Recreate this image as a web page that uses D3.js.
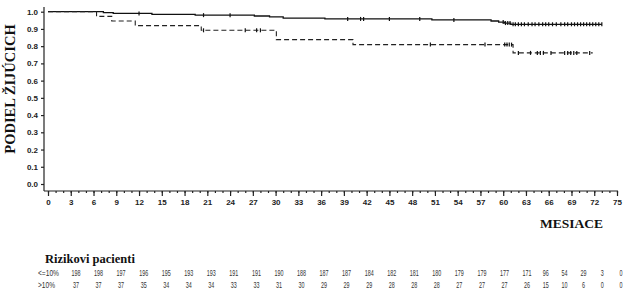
<!DOCTYPE html>
<html>
<head>
<meta charset="utf-8">
<script src="https://cdn.jsdelivr.net/npm/d3@7"></script>
<style>
	body { margin: 0; background: #fff; }
	svg { display: block; }
	.tick text { font-family: "Liberation Sans", Arial, sans-serif; font-weight: bold; font-size: 8px; fill: #222; }
</style>
</head>
<body>
<svg id="chart" width="639" height="302"></svg>
<script>
// survival steps [month, proportion alive]
var lowSteps = [[0, 1.0], [7.3, 0.995], [8.6, 0.99], [13.7, 0.985], [19.4, 0.98], [27.2, 0.975],
	[29.2, 0.97], [31, 0.963], [36.5, 0.958], [50.6, 0.952], [58.4, 0.946], [59.4, 0.94],
	[60.2, 0.934], [61, 0.927], [73, 0.927]];
var highSteps = [[0, 1.0], [6.4, 0.973], [8.4, 0.946], [11.5, 0.919], [20.2, 0.892], [30.1, 0.838],
	[40.2, 0.809], [61.3, 0.761], [71.8, 0.761]];

// censored observations (months)
var lowCensor = [12, 20.5, 24, 39.5, 41.2, 41.6, 45, 49, 53.5, 60, 60.3, 60.6, 60.9, 61.3, 61.6, 62,
	62.4, 62.8, 63.3, 63.8, 64.2, 64.7, 65.2, 65.6, 66, 66.5, 67, 67.6, 68.1, 68.5, 69, 69.4, 69.8,
	70.2, 70.6, 71, 71.4, 71.8, 72.2, 72.6, 73];
var highCensor = [20.5, 26, 27.5, 28, 50.4, 57.6, 60.2, 60.5, 60.8, 61.1, 62, 63.6, 64.5, 64.9,
	65.3, 66.3, 68.1, 68.5, 68.9, 69.3, 69.7, 71.4];

// number at risk
var riskMonths = [0, 3, 6, 9, 12, 15, 18, 21, 24, 27, 30, 33, 36, 39, 42, 45, 48, 51, 54, 57, 60, 63, 66, 69, 72, 75];
var riskLow = [198, 198, 197, 196, 195, 193, 193, 191, 191, 190, 188, 187, 187, 184, 182, 181, 180, 179, 179, 177, 171, 96, 54, 29, 3, 0];
var riskHigh = [37, 37, 37, 35, 34, 34, 34, 33, 33, 31, 30, 29, 29, 29, 28, 28, 28, 27, 27, 27, 26, 15, 10, 6, 0, 0];
var groupLabels = ['<=10%', '>10%'];

var svg = d3.select('#chart');
var x = d3.scaleLinear().domain([0, 75]).range([48, 617]);
var y = d3.scaleLinear().domain([0, 1]).range([184, 11.7]);

// y axis
var yAxis = svg.append('g').attr('transform', 'translate(44,0)')
	.call(d3.axisLeft(y).tickValues(d3.range(0, 1.01, 0.1)).tickFormat(d3.format('.1f')).tickSize(3).tickPadding(3));
yAxis.select('.domain').remove();
svg.append('line').attr('x1', 44).attr('x2', 44).attr('y1', 7).attr('y2', 191)
	.attr('stroke', '#222').attr('stroke-width', 1.2);

// x axis: minor then major ticks
var xMinor = svg.append('g').attr('transform', 'translate(0,191)')
	.call(d3.axisBottom(x).tickValues(d3.range(0, 76, 1)).tickSize(2).tickFormat(''));
xMinor.select('.domain').remove();
var xAxis = svg.append('g').attr('transform', 'translate(0,191)')
	.call(d3.axisBottom(x).tickValues(riskMonths).tickSize(5).tickPadding(3).tickFormat(d3.format('d')));
xAxis.select('.domain').remove();
svg.selectAll('.tick line').attr('stroke', '#222').attr('stroke-width', 1.2);
svg.append('line').attr('x1', 44).attr('x2', 618).attr('y1', 191).attr('y2', 191)
	.attr('stroke', '#222').attr('stroke-width', 1.2);

// curves
var line = d3.line().curve(d3.curveStepAfter)
	.x(function(d) { return x(d[0]); })
	.y(function(d) { return y(d[1]); });

svg.append('path').datum(lowSteps).attr('d', line)
	.attr('fill', 'none').attr('stroke', '#111').attr('stroke-width', 1.3);
svg.append('path').datum(highSteps).attr('d', line)
	.attr('fill', 'none').attr('stroke', '#222').attr('stroke-width', 1.1).attr('stroke-dasharray', '5,3');

function survivalAt(steps, t) {
	var v = steps[0][1];
	steps.forEach(function(s) { if (s[0] <= t) v = s[1]; });
	return v;
}

function drawCensor(times, steps) {
	svg.append('g').selectAll('line')
		.data(times)
		.join('line')
			.attr('x1', function(d) { return x(d); })
			.attr('x2', function(d) { return x(d); })
			.attr('y1', function(d) { return y(survivalAt(steps, d)) - 2; })
			.attr('y2', function(d) { return y(survivalAt(steps, d)) + 2; })
			.attr('stroke', '#111').attr('stroke-width', 1.2);
}
drawCensor(lowCensor, lowSteps);
drawCensor(highCensor, highSteps);

// axis titles
svg.append('text')
	.attr('transform', 'translate(15,89) rotate(-90)')
	.attr('text-anchor', 'middle')
	.style('font-family', '"Liberation Serif", "Times New Roman", serif')
	.style('font-weight', 'bold').style('font-size', '14.5px').style('fill', '#111')
	.text('PODIEL ŽIJÚCICH');

svg.append('text')
	.attr('x', 540).attr('y', 228)
	.style('font-family', '"Liberation Serif", "Times New Roman", serif')
	.style('font-weight', 'bold').style('font-size', '13.5px').style('fill', '#111')
	.text('MESIACE');

// risk table (columns are squeezed towards the end in the original)
svg.append('text')
	.attr('x', 45).attr('y', 263)
	.style('font-family', '"Liberation Serif", "Times New Roman", serif')
	.style('font-weight', 'bold').style('font-size', '12.5px').style('fill', '#111')
	.text('Rizikovi  pacienti');

var tx = d3.scaleLinear().domain([0, 60, 75]).range([76, 527, 621]);
[riskLow, riskHigh].forEach(function(row, i) {
	var yy = 275.5 + i * 12;
	svg.append('text')
		.attr('x', 38).attr('y', yy)
		.attr('textLength', i === 0 ? 21 : 17).attr('lengthAdjust', 'spacingAndGlyphs')
		.style('font-family', '"Liberation Sans", Arial, sans-serif')
		.style('font-size', '9.5px').style('fill', '#333')
		.text(groupLabels[i]);
	svg.append('g').selectAll('text')
		.data(row)
		.join('text')
			.attr('x', function(d, j) { return tx(riskMonths[j]); })
			.attr('y', yy)
			.attr('text-anchor', 'middle')
			.attr('textLength', function(d) { return String(d).length * 3; })
			.attr('lengthAdjust', 'spacingAndGlyphs')
			.style('font-family', '"Liberation Sans", Arial, sans-serif')
			.style('font-size', '9.5px').style('fill', '#333')
			.text(function(d) { return d; });
});
</script>
</body>
</html>
